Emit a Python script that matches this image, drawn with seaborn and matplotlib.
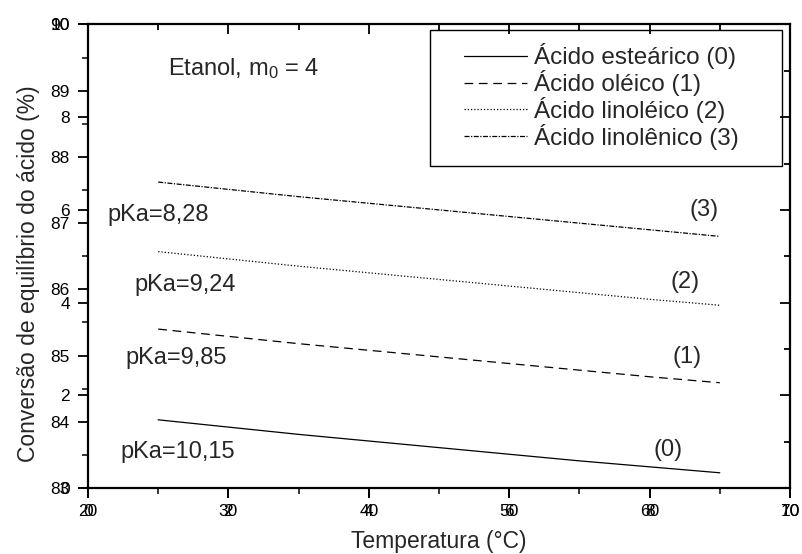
import matplotlib
matplotlib.use("Agg")
import matplotlib.pyplot as plt
from matplotlib.patches import Rectangle
import seaborn as sns
import pandas as pd
import numpy as np

# Temperature grid (°C) and equilibrium conversion (%) for each fatty acid
temperatura = [25, 30, 35, 40, 45, 50, 55, 60, 65]
estearico = [84.03, 83.92, 83.81, 83.71, 83.61, 83.51, 83.41, 83.32, 83.23]
oleico = [85.40, 85.29, 85.18, 85.08, 84.98, 84.88, 84.78, 84.68, 84.59]
linoleico = [86.57, 86.46, 86.35, 86.25, 86.15, 86.05, 85.95, 85.85, 85.76]
linolenico = [87.62, 87.51, 87.40, 87.30, 87.20, 87.10, 87.00, 86.90, 86.80]

acidos = ["Ácido esteárico (0)", "Ácido oléico (1)",
          "Ácido linoléico (2)", "Ácido linolênico (3)"]
pka_labels = ["pKa=10,15", "pKa=9,85", "pKa=9,24", "pKa=8,28"]
serie_labels = ["(0)", "(1)", "(2)", "(3)"]

x_ticks = [20, 30, 40, 50, 60, 70]
y_ticks = [83, 84, 85, 86, 87, 88, 89, 90]
sec_ticks = [0, 2, 4, 6, 8, 10]

sns.set_theme(style="ticks")
plt.rcParams["font.family"] = ["Liberation Sans", "DejaVu Sans"]
plt.rcParams["mathtext.default"] = "regular"

df = pd.DataFrame({
    "T": temperatura * 4,
    "conv": estearico + oleico + linoleico + linolenico,
    "acido": np.repeat(acidos, len(temperatura)),
})

fig = plt.figure(figsize=(8.03, 5.54), dpi=100)
rect = [0.1096, 0.1191, 0.8742, 0.8367]
ax = fig.add_axes(rect)

estilos = {acidos[0]: "", acidos[1]: (7, 4.5),
           acidos[2]: (1, 1.6), acidos[3]: (4, 1.2, 1, 1.2)}
sns.lineplot(data=df, x="T", y="conv", style="acido", dashes=estilos,
             color="black", linewidth=0.9, ax=ax, legend=True)

ax.set_xlim(20, 70)
ax.set_ylim(83, 90)
ax.set_xticks(x_ticks)
ax.set_xticks(np.arange(25, 70, 10), minor=True)
ax.set_yticks(y_ticks)
ax.set_yticks(np.arange(83.5, 90, 1), minor=True)
ax.tick_params(which="major", direction="out", length=7, width=1.3,
               labelsize=12.5, colors="black", top=False, right=False)
ax.tick_params(axis="x", which="major", pad=4.5)
ax.tick_params(axis="y", which="major", pad=6)
ax.tick_params(which="minor", direction="out", length=4, width=1.3,
               top=False, right=False, left=True, bottom=True)
for s in ax.spines.values():
    s.set_linewidth(1.6)
    s.set_color("black")
    s.set_visible(True)

ax.set_xlabel("Temperatura (°C)", fontsize=16.5, labelpad=8)
ax.set_ylabel("Conversão de equilíbrio do ácido (%)", fontsize=16.5)
ax.yaxis.set_label_coords(-0.068, 0.462)

# secondary 0-10 scale sharing the same frame, labelled on left/bottom
ax2 = fig.add_axes(rect, frameon=False)
ax2.patch.set_visible(False)
ax2.set_xlim(0, 10)
ax2.set_ylim(0, 10)
ax2.set_xticks(sec_ticks)
ax2.set_yticks(sec_ticks)
ax2.tick_params(direction="out", length=7, width=1.3, labelsize=12.5,
                colors="black")
ax2.tick_params(axis="x", pad=4.5)
ax2.tick_params(axis="y", pad=6)

# inward ticks along top and right edges
ax3 = fig.add_axes(rect, frameon=False)
ax3.patch.set_visible(False)
ax3.set_xlim(0, 10)
ax3.set_ylim(0, 10)
ax3.set_xticks([2, 4, 6, 8])
ax3.set_xticks([1, 3, 5, 7, 9], minor=True)
ax3.set_yticks([2, 4, 6, 8])
ax3.set_yticks([1, 3, 5, 7, 9], minor=True)
ax3.tick_params(which="both", direction="in", width=1.3, colors="black",
                top=True, right=True, bottom=False, left=False,
                labeltop=False, labelright=False, labelbottom=False,
                labelleft=False)
ax3.tick_params(which="major", length=7)
ax3.tick_params(which="minor", length=4)

# legend: entries placed inside a plain rectangular frame
ax.add_patch(Rectangle((0.487, 0.6947), 0.5016, 0.2933,
                       transform=ax.transAxes, facecolor="white",
                       edgecolor="black", linewidth=1.0, zorder=4))
handles, labels = ax.get_legend_handles_labels()
leg = ax.legend(handles, labels, loc="center left",
                bbox_to_anchor=(0.5356, 0.8447), fontsize=17.5, frameon=False,
                handlelength=2.6, handletextpad=0.3, labelspacing=0.03,
                borderpad=0, borderaxespad=0)
leg.set_zorder(5)

# annotations
ax.text(25.7, 89.34, r"Etanol, m$_{0}$ = 4", fontsize=17, va="center")
pka_pos = [(22.3, 83.54), (22.7, 84.96), (23.3, 86.07), (21.4, 87.12)]
for lab, (px, py) in zip(pka_labels, pka_pos):
    ax.text(px, py, lab, fontsize=17, va="center")
serie_pos = [(61.3, 83.57), (62.7, 84.98), (62.5, 86.11), (63.9, 87.2)]
for lab, (px, py) in zip(serie_labels, serie_pos):
    ax.text(px, py, lab, fontsize=17, va="center", ha="center")

fig.savefig("out.png", dpi=100, facecolor="white")
